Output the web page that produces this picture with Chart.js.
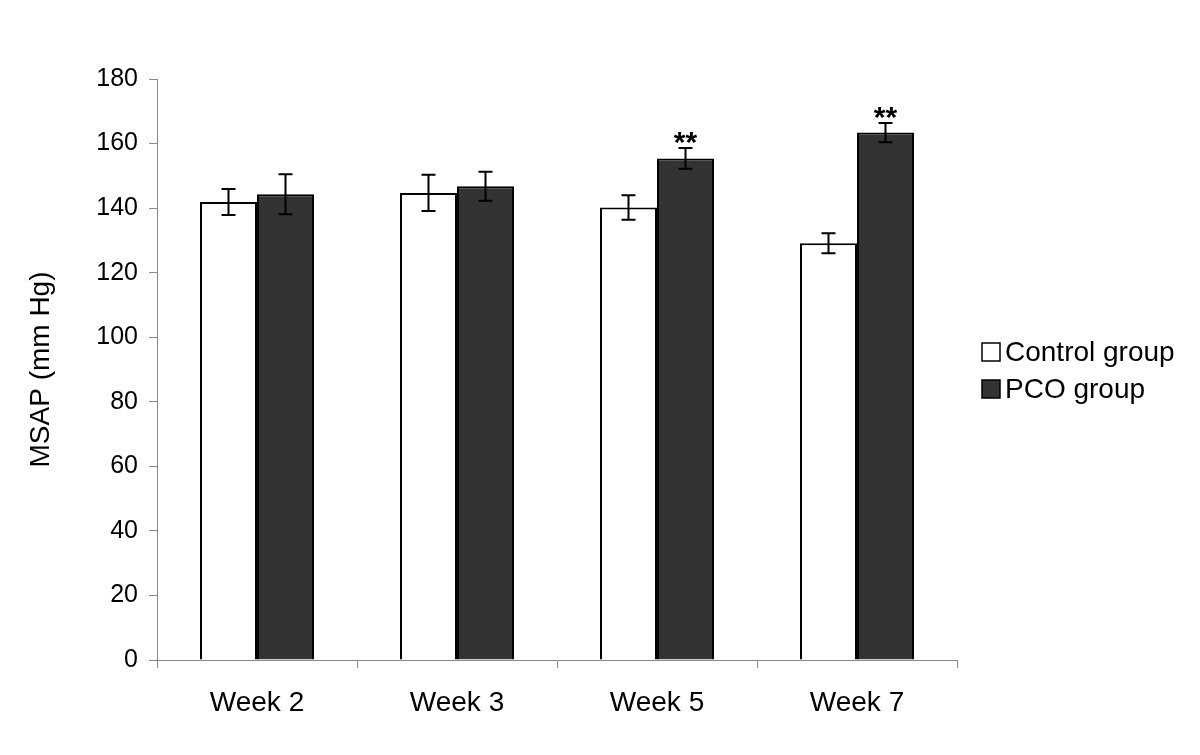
<!DOCTYPE html>
<html>
<head>
<meta charset="utf-8">
<script src="https://cdn.jsdelivr.net/npm/chart.js@4"></script>
<style>
  html, body { margin: 0; padding: 0; background: #fff; }
  #wrap { position: relative; width: 1200px; height: 755px; }
</style>
</head>
<body>
<div id="wrap"><canvas id="msapChart" width="1200" height="755"></canvas></div>
<script>
// Data
const weeks = ['Week 2', 'Week 3', 'Week 5', 'Week 7'];
const controlMean = [141.9, 144.7, 140.2, 129.1];
const controlErr = [4.0, 5.6, 3.8, 3.1];
const pcoMean = [144.3, 146.8, 155.4, 163.4];
const pcoErr = [6.2, 4.5, 3.2, 3.0];
const pcoMarks = ['', '', '**', '**'];
const yTicks = [0, 20, 40, 60, 80, 100, 120, 140, 160, 180];

const FONT = '"Liberation Sans", Arial, sans-serif';

// error bars + significance stars
const errorBars = {
    id: 'errorBars',
    afterDatasetsDraw(chart) {
        const ctx = chart.ctx;
        const yScale = chart.scales.y;
        const errs = [controlErr, pcoErr];
        ctx.save();
        ctx.strokeStyle = '#000';
        ctx.lineWidth = 2;
        chart.data.datasets.forEach(function(ds, di) {
            const meta = chart.getDatasetMeta(di);
            meta.data.forEach(function(bar, i) {
                const v = ds.data[i];
                const e = errs[di][i];
                const x = bar.x;
                const yTop = yScale.getPixelForValue(v + e);
                const yBot = yScale.getPixelForValue(v - e);
                ctx.beginPath();
                ctx.moveTo(x, yTop); ctx.lineTo(x, yBot);
                ctx.moveTo(x - 7, yTop); ctx.lineTo(x + 7, yTop);
                ctx.moveTo(x - 7, yBot); ctx.lineTo(x + 7, yBot);
                ctx.stroke();
                if (di === 1 && pcoMarks[i]) {
                    ctx.fillStyle = '#000';
                    ctx.font = 'bold 30px ' + FONT;
                    ctx.textAlign = 'center';
                    ctx.textBaseline = 'alphabetic';
                    ctx.fillText(pcoMarks[i], x, yTop + 4);
                }
            });
        });
        ctx.restore();
    }
};

// legend on the right, drawn by hand so the plot area stays fixed
const sideLegend = {
    id: 'sideLegend',
    afterDraw(chart) {
        const ctx = chart.ctx;
        const items = chart.data.datasets;
        ctx.save();
        ctx.font = '28px ' + FONT;
        ctx.textBaseline = 'middle';
        ctx.textAlign = 'left';
        items.forEach(function(ds, i) {
            const y = 352 + i * 37;
            ctx.fillStyle = ds.backgroundColor;
            ctx.strokeStyle = '#000';
            ctx.lineWidth = 1.5;
            ctx.fillRect(982, y - 9, 18, 18);
            ctx.strokeRect(982, y - 9, 18, 18);
            ctx.fillStyle = '#000';
            ctx.fillText(ds.label, 1005, y + 1);
        });
        ctx.restore();
    }
};

new Chart(document.getElementById('msapChart'), {
    type: 'bar',
    data: {
        labels: weeks,
        datasets: [{
            label: 'Control group',
            data: controlMean,
            backgroundColor: '#ffffff',
            borderColor: '#000000',
            borderWidth: 2,
            borderSkipped: 'bottom'
        }, {
            label: 'PCO group',
            data: pcoMean,
            backgroundColor: '#333333',
            borderColor: '#000000',
            borderWidth: 2,
            borderSkipped: 'bottom'
        }]
    },
    options: {
        responsive: false,
        animation: false,
        datasets: {
            bar: {
                categoryPercentage: 0.57,
                barPercentage: 1.0
            }
        },
        layout: {
            padding: { top: 79, right: 243, bottom: 0, left: 0 }
        },
        plugins: {
            legend: { display: false },
            tooltip: { enabled: false }
        },
        scales: {
            x: {
                grid: {
                    display: true,
                    offset: true,
                    drawOnChartArea: false,
                    drawTicks: true,
                    tickLength: 8,
                    color: '#888888'
                },
                border: { color: '#888888', width: 1 },
                ticks: {
                    color: '#000',
                    font: { family: FONT, size: 28 },
                    padding: 18
                },
                afterFit: function(scale) { scale.height = 95; }
            },
            y: {
                min: 0,
                max: 180,
                afterBuildTicks: function(scale) {
                    scale.ticks = yTicks.map(function(v) { return { value: v }; });
                },
                grid: {
                    display: true,
                    drawOnChartArea: false,
                    drawTicks: true,
                    tickLength: 8,
                    color: '#888888'
                },
                border: { color: '#888888', width: 1 },
                ticks: {
                    color: '#000',
                    font: { family: FONT, size: 25 },
                    padding: 11
                },
                title: {
                    display: true,
                    text: 'MSAP (mm Hg)',
                    color: '#000',
                    font: { family: FONT, size: 28 },
                    padding: { top: 24, bottom: 0 }
                },
                afterFit: function(scale) { scale.width = 157; }
            }
        }
    },
    plugins: [errorBars, sideLegend]
});
</script>
</body>
</html>
